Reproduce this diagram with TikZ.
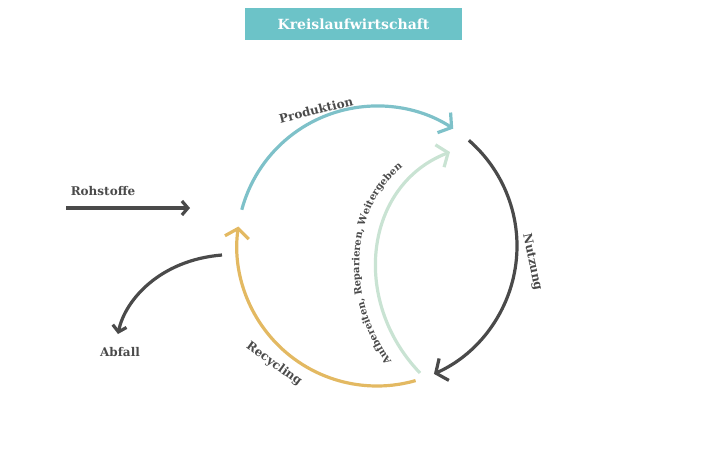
\documentclass[tikz,border=0pt]{standalone}
\usepackage{fontspec}
\setmainfont{DejaVu Serif}
\usetikzlibrary{arrows.meta,decorations.text}
\definecolor{teal}{HTML}{6CC3C8}
\definecolor{prod}{HTML}{7EC1C9}
\definecolor{dark}{HTML}{4A4A4A}
\definecolor{gold}{HTML}{E3B962}
\definecolor{mint}{HTML}{C9E3D3}
\tikzset{
  flow/.style={line width=3.2pt,-{Straight Barb[length=9pt,width=24pt,line width=3.2pt]}},
  small/.style={-{Straight Barb[length=6pt,width=14pt,line width=3.2pt]}},
  lbl/.style={font=\bfseries\fontsize{12}{14}\selectfont,text=dark}
}
\begin{document}
\begin{tikzpicture}[x=1pt,y=-1pt]
\useasboundingbox (0,0) rectangle (701,448);
\node[fill=teal,minimum width=217pt,minimum height=32pt,text=white,font=\bfseries\fontsize{14}{16}\selectfont] (title) at (353.5,24) {Kreislaufwirtschaft};
\coordinate (c) at (377,246);
\draw[flow,prod] ([shift={(-165:140)}]c) arc[start angle=-165,end angle=-57,radius=140];
\draw[flow,dark] ([shift={(-49:140)}]c) arc[start angle=-49,end angle=66,radius=140];
\draw[flow,gold] ([shift={(74:140)}]c) arc[start angle=74,end angle=188,radius=140];
\coordinate (ga) at (420,373);
\coordinate (gb) at (450,152);
\draw[flow,mint] (ga) .. controls (350,300) and (365,185) .. (gb);
\path[decorate,decoration={text along path,text align=center,text={|\bfseries\fontsize{10}{12}\selectfont\color{dark}|Aufbereiten, Reparieren, Weitergeben}}]
  (400,372) .. controls (338,300) and (350,195) .. (414,160);
\node[lbl,rotate=14] (p) at (316,110) {Produktion};
\node[lbl,rotate=-78] (n) at (532,262) {Nutzung};
\node[lbl,rotate=-36] (r) at (274,364) {Recycling};
\node[lbl] (roh) at (103,191) {Rohstoffe};
\coordinate (r1) at (66,208);
\coordinate (r2) at (190,208);
\draw[flow,small,dark] (r1) -- (r2);
\node[lbl] (abf) at (120,352) {Abfall};
\coordinate (a1) at (222,255);
\coordinate (a2) at (118,334);
\draw[flow,small,dark] (a1) .. controls (160,260) and (125,300) .. (a2);
\end{tikzpicture}
\end{document}
